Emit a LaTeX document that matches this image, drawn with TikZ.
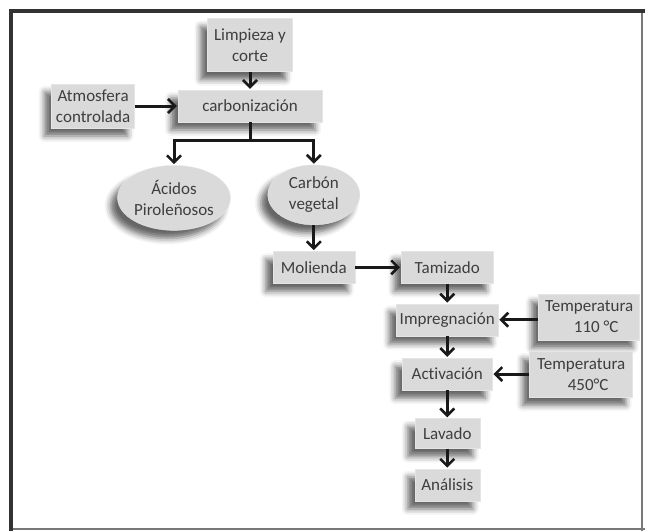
\documentclass[tikz,border=0pt]{standalone}
\usepackage{fontspec}
\setmainfont[Ligatures=CommonOff]{Carlito}
\usetikzlibrary{arrows.meta, positioning, shapes.geometric, shadows.blur}
\definecolor{boxGray}{RGB}{218,218,218}
\definecolor{txtGray}{RGB}{62,62,62}
\definecolor{arrDark}{RGB}{25,25,25}
\definecolor{frameGray}{RGB}{120,120,120}
\tikzset{
  stepbox/.style={rectangle, fill=boxGray, draw=white!90!black, line width=0.4pt,
    text=txtGray, align=center, inner sep=0pt,
    font=\fontsize{17}{21}\selectfont,
    blur shadow={shadow xshift=-7pt, shadow yshift=-8pt,
      shadow blur radius=6pt, shadow opacity=60}},
  prodN/.style={stepbox, ellipse},
  arr/.style={-{Straight Barb[length=7pt,width=14pt,line width=2.6pt]},
    line width=3pt, color=arrDark, shorten >=1pt},
  frameN/.style={line width=3.5pt, color=black!80},
}
\begin{document}
\begin{tikzpicture}[x=1pt, y=1pt, node distance=20pt and 40pt]
\useasboundingbox (0,0) rectangle (645,-531);

% outer frame
\draw[frameN] (11,-531) -- (11,-11) -- (645,-11);
\draw[frameGray, line width=2pt] (642,-13) -- (642,-531);
\draw[frameGray, line width=2pt] (13,-529) -- (645,-529);

% carbonization stage
\node[stepbox, minimum width=144pt, minimum height=32pt] (carb) at (250,-106)
  {carbonización};
\node[stepbox, minimum width=85pt, minimum height=53pt, above=18pt of carb] (limp)
  {Limpieza y\\corte};
\node[stepbox, minimum width=83pt, minimum height=44pt, left=43pt of carb] (atm)
  {Atmosfera\\controlada};

\node[prodN, minimum width=108pt, minimum height=65pt,
      below=43pt of carb, xshift=-76pt] (acid)
  {Ácidos\\Piroleñosos};
\node[prodN, minimum width=92pt, minimum height=60pt,
      right=37pt of acid, yshift=3pt] (cveg)
  {Carbón\\vegetal};
\coordinate[below=18pt of carb] (split);

% activated carbon line
\node[stepbox, minimum width=82pt, minimum height=32pt, below=26pt of cveg] (mol)
  {Molienda};
\node[stepbox, minimum width=92pt, minimum height=32pt, right=46pt of mol] (tam)
  {Tamizado};
\node[stepbox, minimum width=102pt, minimum height=32pt, below=20pt of tam] (imp)
  {Impregnación};
\node[stepbox, minimum width=101pt, minimum height=46pt,
      right=40pt of imp, yshift=3pt] (t110)
  {Temperatura\\\hspace*{14pt}110 °C};
\node[stepbox, minimum width=90pt, minimum height=32pt, below=22pt of imp] (act)
  {Activación};
\node[stepbox, minimum width=103pt, minimum height=46pt, right=37pt of act] (t450)
  {Temperatura\\\hspace*{14pt}450°C};
\node[stepbox, minimum width=65pt, minimum height=30pt, below=28pt of act] (lav)
  {Lavado};
\node[stepbox, minimum width=65pt, minimum height=32pt, below=20pt of lav] (ana)
  {Análisis};

\draw[arr] (limp) -- (carb);
\draw[arr] (atm) -- (carb);
\draw[arr] (carb.south) -- (split) -| (acid.north);
\draw[arr] (split) -| (cveg.north);
\draw[arr] (cveg) -- (mol);
\draw[arr] (mol) -- (tam);
\draw[arr] (tam) -- (imp);
\draw[arr] (t110.west |- imp.east) -- (imp.east);
\draw[arr] (imp) -- (act);
\draw[arr] (t450) -- (act);
\draw[arr] (act) -- (lav);
\draw[arr] (lav) -- (ana);

\end{tikzpicture}
\end{document}
